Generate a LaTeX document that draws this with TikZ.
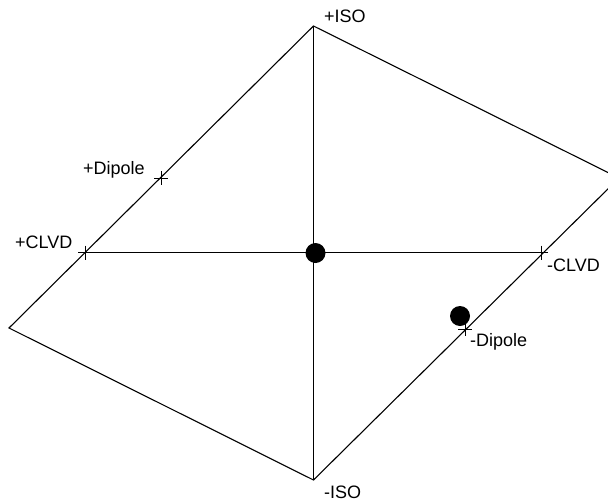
\documentclass[tikz,border=0pt]{standalone}
\usepackage{fontspec}
\setmainfont{Liberation Sans}
\begin{document}
\begin{tikzpicture}[x=1pt,y=-1pt,
  edge/.style={line width=1.1pt,black},
  tick/.style={line width=1pt,black},
  dot/.style={circle,fill=black,inner sep=0pt,minimum size=20pt},
  lbl/.style={inner sep=0pt,font=\fontsize{18}{21}\selectfont,anchor=base west}]
\useasboundingbox (0,0) rectangle (608,501);
\clip (0,0) rectangle (608,501);
\coordinate (T) at (313.5,26);
\coordinate (B) at (313.5,480);
\coordinate (L) at (9,328);
\coordinate (R) at (619,178);
\coordinate (pCLVD) at (85,252.5);
\coordinate (mCLVD) at (541,252.5);
\coordinate (pDip) at (161,178);
\coordinate (mDip) at (465,329);
\draw[edge] (T) -- (L) -- (B) -- (R) -- cycle;
\draw[edge] (T) -- (B);
\draw[edge] (pCLVD) -- (mCLVD);
\foreach \c in {pCLVD,mCLVD,pDip,mDip}{
  \draw[tick] (\c) +(-7,0) -- +(7,0) (\c) +(0,-7) -- +(0,7);
}
\node[dot] (d1) at (315.5,253) {};
\node[dot] (d2) at (460,316) {};
\node[lbl] (tISOp) at (324,22) {+ISO};
\node[lbl] (tISOm) at (324,498) {-ISO};
\node[lbl] (tDipp) at (83,174) {+Dipole};
\node[lbl] (tDipm) at (470,346) {-Dipole};
\node[lbl] (tCLVDp) at (15,248) {+CLVD};
\node[lbl] (tCLVDm) at (547,271.5) {-CLVD};
\end{tikzpicture}
\end{document}
